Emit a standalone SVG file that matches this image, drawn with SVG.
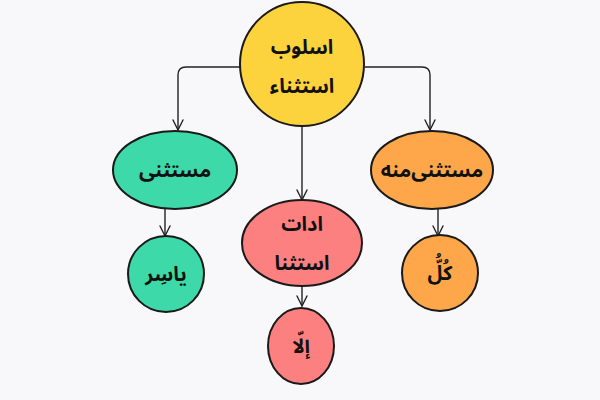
<svg xmlns="http://www.w3.org/2000/svg" width="600" height="400" viewBox="0 0 600 400">
<defs>
<style>
.n{stroke:#1a1a1a;stroke-width:2}
.t{font-family:"Noto Sans Arabic","DejaVu Sans",sans-serif;font-weight:bold;font-size:20px;fill:#111;text-anchor:middle}
.c{fill:none;stroke:#222;stroke-width:1.4;stroke-linecap:round;stroke-linejoin:round}
</style>
<marker id="ah" viewBox="0 0 12 12" refX="11" refY="6" markerWidth="12" markerHeight="12" markerUnits="userSpaceOnUse" orient="auto-start-reverse">
<path d="M1,1 L11,6 L1,11" fill="none" stroke="#222" stroke-width="1.4" stroke-linecap="round" stroke-linejoin="round"/>
</marker>
</defs>
<rect width="600" height="400" fill="#f8f8fa"/>
<g id="connectors" class="c">
<path class="c" d="M240,67 H186 Q178,67 178,75 V130" marker-end="url(#ah)"/>
<path class="c" d="M365,67 H422 Q430,67 430,75 V130" marker-end="url(#ah)"/>
<path class="c" d="M302,126 V200" marker-end="url(#ah)"/>
<path class="c" d="M165,208 V236" marker-end="url(#ah)"/>
<path class="c" d="M438,208 V236" marker-end="url(#ah)"/>
<path class="c" d="M302,286 V306" marker-end="url(#ah)"/>
</g>
<g id="n-root">
<circle class="n" cx="302" cy="64" r="62" fill="#fdd33d"/>
<text class="t" x="302" y="54">اسلوب</text>
<text class="t" x="302" y="93">استثناء</text>
</g>
<g id="n-mostasna">
<ellipse class="n" cx="175" cy="170" rx="62" ry="39" fill="#3dd9a8"/>
<text class="t" x="175" y="177">مستثنی</text>
</g>
<g id="n-mostasnaminh">
<ellipse class="n" cx="432" cy="170" rx="61" ry="39" fill="#fda74a"/>
<text class="t" x="432" y="177">مستثنی‌منه</text>
</g>
<g id="n-adat">
<ellipse class="n" cx="302" cy="243" rx="60" ry="43" fill="#fd8080"/>
<text class="t" x="302" y="231">ادات</text>
<text class="t" x="302" y="270">استثنا</text>
</g>
<g id="n-yaser">
<circle class="n" cx="166" cy="274" r="38" fill="#3dd9a8"/>
<text class="t" x="166" y="281">یاسِر</text>
</g>
<g id="n-kol">
<circle class="n" cx="440" cy="273" r="38" fill="#fda74a"/>
<text class="t" x="440" y="280">كُلُّ</text>
</g>
<g id="n-ella">
<ellipse class="n" cx="301" cy="346" rx="33" ry="38" fill="#fd8080"/>
<text class="t" x="301" y="353">إلّا</text>
</g>
</svg>
